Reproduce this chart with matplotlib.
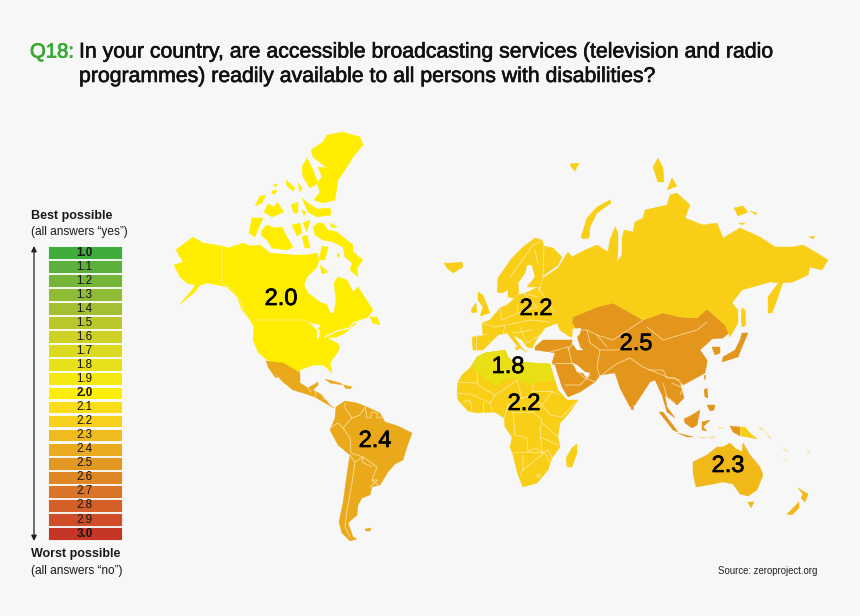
import matplotlib

matplotlib.use("Agg")
import matplotlib.patheffects as pe
import matplotlib.pyplot as plt

BACKGROUND = "#f7f7f7"
FONT = "Liberation Sans"

# colour scale
scale_labels = ["1.0", "1.1", "1.2", "1.3", "1.4", "1.5", "1.6", "1.7", "1.8", "1.9", "2.0",
                "2.1", "2.2", "2.3", "2.4", "2.5", "2.6", "2.7", "2.8", "2.9", "3.0"]
scale_colors = ["#3aaa35", "#57ae35", "#70b334", "#8cb92f", "#a3bd2b", "#b8c624", "#cdd01f",
                "#dcd81a", "#e8e014", "#f5e80b", "#ffed00", "#fbdd10", "#f8cf16", "#f0b917",
                "#eaa91a", "#e3951c", "#df821e", "#d9701f", "#d35a20", "#cd4620", "#c5301f"]
scale_bold = ["1.0", "2.0", "3.0"]

# region scores, with the spot each label sits on the map
label_scores = ["2.0", "2.2", "2.5", "1.8", "2.2", "2.4", "2.3"]
label_x = [281, 536, 636, 508, 524, 375, 728]
label_y = [299, 309, 344, 367, 404, 441, 466]

# outlines in image pixels
north_america = [
    [(176, 250), (193, 237), (203, 243), (222, 246), (228, 248), (243, 243), (250, 246), (260, 245),
     (270, 253), (293, 255), (307, 255), (317, 253), (319, 260), (317, 267), (307, 277), (304, 285),
     (308, 293), (320, 302), (327, 305), (330, 313), (334, 313), (336, 300), (334, 283), (338, 277),
     (347, 280), (353, 292), (358, 287), (373, 310), (368, 317), (360, 320), (352, 327), (345, 333),
     (337, 337), (327, 338), (337, 343), (340, 347), (337, 353), (330, 363), (332, 373), (327, 368),
     (323, 365), (313, 365), (300, 370), (299, 380), (290, 375), (277, 363), (267, 360), (258, 352),
     (253, 340), (254, 327), (250, 320), (242, 310), (237, 297), (227, 287), (208, 283), (200, 285),
     (195, 292), (180, 304), (192, 290), (195, 285), (187, 283), (180, 277), (174, 265), (183, 262)],
    [(327, 135), (343, 132), (360, 137), (363, 145), (353, 157), (345, 170), (338, 180), (335, 200),
     (323, 203), (314, 200), (320, 192), (317, 183), (322, 177), (318, 167), (327, 168), (313, 157),
     (311, 150), (323, 142)],
    [(307, 158), (313, 170), (318, 183), (310, 188), (303, 177), (302, 167)],
    [(302, 198), (308, 203), (317, 209), (330, 208), (331, 215), (317, 217), (308, 212)],
    [(255, 206), (260, 196), (266, 195), (262, 203)],
    [(264, 212), (268, 204), (275, 207), (277, 202), (284, 212), (272, 217)],
    [(291, 205), (298, 202), (298, 213), (294, 213)],
    [(286, 180), (295, 188), (293, 191), (287, 186)],
    [(298, 183), (302, 188), (300, 192)],
    [(272, 191), (277, 190), (275, 194), (272, 194)],
    [(273, 185), (277, 184), (276, 187)],
    [(302, 210), (306, 212), (304, 216)],
    [(252, 218), (263, 218), (260, 225), (255, 237), (249, 233)],
    [(262, 230), (267, 225), (275, 228), (282, 227), (287, 237), (293, 247), (287, 250), (272, 248),
     (267, 240), (261, 235)],
    [(292, 225), (300, 223), (302, 233), (297, 236)],
    [(303, 223), (310, 220), (307, 232)],
    [(302, 237), (307, 235), (310, 248), (305, 248)],
    [(313, 227), (318, 223), (323, 223), (328, 230), (337, 232), (353, 245), (353, 252), (363, 260),
     (357, 268), (358, 277), (350, 270), (352, 263), (345, 257), (343, 247), (333, 242), (323, 240),
     (315, 235)],
    [(330, 223), (337, 227), (332, 228)],
    [(322, 246), (328, 247), (325, 260), (319, 260)],
    [(320, 265), (328, 272), (322, 274)],
    [(337, 253), (340, 255), (338, 258)],
    [(370, 317), (377, 317), (380, 325), (373, 323)],
]
latin_america = [
    [(266, 361), (283, 363), (292, 368), (300, 373), (300, 383), (308, 388), (318, 382), (318, 385),
     (313, 390), (322, 395), (330, 405), (334, 408), (325, 403), (315, 397), (303, 393), (293, 390),
     (283, 382), (275, 373)],
    [(266, 361), (272, 368), (278, 378), (275, 377), (268, 367)],
    [(325, 379), (340, 383), (343, 385), (330, 383)],
    [(344, 385), (352, 387), (350, 389), (345, 388)],
    [(336, 407), (345, 401), (357, 403), (367, 407), (380, 413), (385, 422), (398, 426), (412, 433),
     (407, 447), (403, 460), (395, 464), (388, 472), (380, 485), (372, 487), (370, 495), (362, 498),
     (358, 505), (357, 515), (348, 523), (353, 537), (357, 539), (350, 541), (342, 533), (339, 522),
     (343, 503), (348, 467), (350, 455), (338, 445), (330, 430), (335, 418)],
    [(365, 529), (371, 528), (370, 531), (366, 531)],
]
africa_south = [
    [(458, 382), (462, 375), (470, 368), (477, 357), (485, 353), (505, 350), (508, 357), (513, 362),
     (533, 363), (550, 364), (558, 390), (567, 400), (578, 400), (570, 412), (560, 423), (558, 437),
     (560, 447), (552, 458), (548, 470), (537, 483), (523, 487), (518, 475), (513, 455), (510, 447),
     (512, 437), (505, 427), (504, 418), (495, 412), (477, 413), (468, 411), (458, 400), (457, 393)],
    [(577, 444), (577, 453), (572, 467), (567, 467), (566, 458), (572, 448)],
]
north_africa = [
    [(472, 368), (477, 357), (485, 353), (505, 350), (508, 357), (513, 362), (533, 363), (550, 364),
     (553, 381), (533, 382), (533, 385), (517, 379), (507, 378), (496, 386), (477, 373)],
]
russia_europe = [
    [(540, 290), (543, 278), (558, 268), (568, 252), (572, 257), (585, 250), (597, 245), (608, 252),
     (610, 240), (615, 227), (618, 233), (618, 250), (617, 262), (622, 255), (622, 238), (624, 230),
     (633, 232), (635, 222), (643, 218), (645, 210), (667, 205), (670, 195), (677, 193), (690, 205),
     (685, 218), (703, 225), (717, 223), (723, 238), (740, 228), (760, 237), (775, 247), (793, 247),
     (803, 245), (817, 253), (828, 260), (822, 270), (810, 267), (808, 275), (793, 282), (780, 283),
     (770, 282), (742, 290), (732, 303), (738, 310), (738, 323), (730, 337), (725, 325), (707, 309),
     (697, 318), (680, 317), (663, 313), (643, 320), (613, 303), (597, 307), (573, 317), (572, 323),
     (580, 335), (570, 337), (560, 330), (557, 323), (555, 313), (537, 307), (537, 297)],
    [(768, 297), (782, 278), (783, 282), (778, 297), (772, 313), (768, 313)],
    [(742, 308), (745, 310), (746, 325), (742, 327), (741, 318)],
    [(653, 167), (658, 158), (663, 168), (664, 182), (658, 182)],
    [(667, 190), (672, 178), (677, 186)],
    [(734, 208), (743, 206), (748, 212), (738, 216)],
    [(750, 211), (757, 213), (756, 215)],
    [(739, 223), (745, 223), (742, 225)],
    [(809, 237), (815, 236), (813, 239)],
    [(570, 164), (579, 163), (575, 171), (572, 168)],
    [(581, 237), (587, 218), (597, 207), (610, 200), (611, 203), (597, 213), (590, 227), (589, 238), (583, 239)],
    [(444, 263), (453, 263), (462, 262), (463, 267), (453, 273), (447, 268)],
    [(497, 292), (498, 278), (512, 258), (523, 247), (535, 238), (542, 240), (544, 246), (553, 248),
     (562, 257), (558, 265), (543, 276), (540, 287), (527, 287), (535, 277), (532, 265), (527, 265),
     (525, 273), (518, 283), (519, 293), (514, 298), (508, 297), (508, 290), (502, 293)],
    [(482, 323), (490, 320), (500, 308), (507, 305), (518, 295), (528, 292), (538, 287), (540, 297),
     (537, 307), (555, 313), (560, 320), (557, 323), (545, 328), (540, 335), (538, 337), (532, 348),
     (527, 347), (522, 340), (513, 335), (522, 348), (527, 352), (518, 347), (507, 333), (498, 335),
     (490, 343), (483, 350), (473, 350), (472, 337), (483, 335)],
    [(478, 292), (483, 295), (490, 313), (480, 316), (483, 307), (478, 300)],
    [(471, 310), (476, 303), (477, 312), (472, 313)],
    [(515, 347), (520, 348), (516, 350)],
    [(740, 427), (745, 427), (750, 433), (757, 439), (747, 437), (741, 436)],
]
asia = [
    [(535, 347), (543, 340), (562, 340), (572, 340), (574, 336), (570, 325), (573, 317), (597, 307),
     (613, 303), (643, 320), (663, 313), (680, 317), (697, 318), (707, 309), (725, 325), (730, 332),
     (723, 338), (712, 339), (700, 350), (707, 360), (707, 363), (705, 373), (687, 383), (683, 385),
     (680, 383), (684, 398), (677, 405), (668, 398), (665, 395), (667, 407), (675, 418), (667, 412),
     (662, 395), (655, 380), (650, 382), (635, 405), (630, 407), (620, 388), (615, 373), (600, 375),
     (595, 382), (580, 392), (568, 397), (562, 387), (555, 365), (552, 363), (555, 353), (550, 352),
     (535, 350)],
    [(631, 405), (634, 407), (633, 410), (631, 409)],
    [(742, 333), (748, 333), (742, 347), (738, 357), (722, 362), (723, 357), (735, 350), (740, 340)],
    [(712, 347), (720, 347), (720, 353), (715, 355), (713, 350)],
    [(704, 376), (706, 375), (705, 380)],
    [(704, 390), (707, 388), (708, 398), (705, 397)],
    [(707, 405), (715, 405), (714, 410), (710, 411)],
    [(659, 412), (663, 412), (678, 432), (673, 430)],
    [(678, 433), (693, 437), (687, 437)],
    [(684, 419), (692, 415), (700, 410), (697, 425), (692, 428), (685, 423)],
    [(702, 422), (710, 420), (703, 427), (707, 431), (702, 430)],
    [(730, 426), (740, 427), (740, 436), (733, 432)],
]
oceania = [
    [(693, 462), (707, 455), (717, 447), (723, 447), (730, 443), (735, 448), (742, 452), (743, 443),
     (750, 455), (760, 467), (763, 475), (757, 490), (748, 496), (740, 494), (733, 484), (723, 482),
     (708, 485), (696, 487), (693, 473)],
    [(748, 502), (754, 502), (751, 508)],
    [(798, 488), (808, 494), (805, 502), (801, 498), (803, 494)],
    [(799, 502), (799, 508), (792, 515), (787, 514)],
]
faint_islands = [
    [(698, 437), (706, 437), (704, 439)], [(708, 437), (716, 436), (712, 439)],
    [(718, 427), (724, 428), (720, 429)], [(758, 426), (764, 429), (762, 431)],
    [(764, 431), (772, 438), (770, 439)], [(782, 447), (788, 451), (786, 452)],
    [(782, 458), (787, 461), (790, 462)], [(807, 453), (811, 450), (808, 455)],
]
# open water cut back out of the land
water = [
    [(573, 329), (581, 328), (580, 333), (577, 337), (580, 347), (583, 350), (577, 350), (572, 343)],
    [(573, 363), (577, 365), (585, 372), (590, 373), (587, 378), (583, 373), (577, 372)],
    [(310, 323), (320, 325), (317, 330)],
    [(317, 330), (320, 330), (319, 338), (317, 338)],
]
st_lawrence = [(325, 337), (337, 331), (350, 328), (353, 323), (363, 320)]

# country borders
pale_borders = [
    [(222, 246), (222, 283), (230, 288), (240, 300), (245, 313), (250, 320)],
    [(254, 320), (303, 320), (315, 325)],
    [(308, 388), (311, 392)], [(315, 390), (316, 396)], [(322, 395), (325, 400)],
    # south america
    [(352, 418), (343, 428), (350, 438), (351, 453), (363, 457), (377, 467), (372, 480), (378, 485)],
    [(330, 428), (338, 423), (343, 428)], [(345, 403), (345, 408), (352, 418), (360, 415), (365, 407)],
    [(365, 407), (367, 418), (370, 418), (372, 412), (377, 413), (377, 418), (382, 417)],
    [(355, 462), (352, 483), (347, 510), (345, 527), (350, 537)], [(363, 457), (362, 462), (372, 467)],
    [(350, 455), (355, 462), (363, 457)], [(372, 480), (378, 480), (370, 487)],
    # africa
    [(477, 373), (478, 385), (495, 395), (503, 390), (517, 380)], [(458, 382), (477, 383)],
    [(458, 393), (473, 395), (490, 403), (495, 395)], [(463, 402), (470, 400), (472, 410)],
    [(483, 402), (483, 412)], [(490, 403), (492, 411)],
    [(517, 380), (522, 398), (508, 405), (504, 418)], [(533, 385), (533, 395), (542, 405), (552, 392), (559, 395)],
    [(533, 391), (553, 391)], [(522, 398), (533, 395)],
    [(542, 405), (550, 415), (562, 417), (575, 403)], [(508, 405), (513, 413), (533, 412), (542, 405)],
    [(513, 413), (515, 435), (527, 438), (528, 452), (542, 453), (540, 430), (542, 420), (533, 412)],
    [(542, 423), (558, 437)], [(540, 437), (558, 445)], [(513, 453), (528, 452)],
    [(523, 455), (523, 470), (520, 475)], [(523, 470), (535, 460), (545, 453), (550, 462)],
    [(528, 452), (535, 448), (543, 452)], [(542, 453), (548, 450), (552, 458)],
    [(537, 475), (539, 474), (540, 476), (538, 478), (537, 475)],
    # europe
    [(510, 277), (520, 263), (533, 245), (540, 242)], [(535, 250), (538, 265)], [(544, 246), (543, 276)],
    [(482, 323), (495, 327), (505, 325), (503, 335)], [(473, 337), (487, 334)],
    [(500, 308), (502, 320), (518, 313), (517, 305)], [(518, 313), (537, 307)],
    [(525, 295), (530, 300), (537, 307)], [(507, 325), (530, 320), (550, 322)],
    [(512, 333), (533, 330)], [(520, 327), (527, 343), (540, 335)], [(476, 337), (476, 350)],
    [(518, 292), (538, 297)], [(555, 313), (540, 290)],
    # asia
    [(572, 330), (587, 330), (597, 335), (613, 340), (628, 330), (643, 320)],
    [(647, 327), (663, 340), (697, 330), (707, 322)], [(568, 347), (572, 363), (583, 377), (595, 382)],
    [(600, 350), (597, 367), (600, 377)], [(550, 352), (568, 347)], [(555, 363), (572, 363)],
    [(630, 358), (618, 363), (608, 370), (600, 377)], [(630, 358), (643, 367), (667, 377), (680, 380)],
    [(600, 350), (617, 350), (627, 347)], [(587, 330), (590, 343), (600, 350)], [(597, 335), (607, 347)],
    [(648, 370), (663, 370), (667, 378), (675, 378), (683, 385)], [(663, 383), (667, 397), (675, 403)],
    [(672, 383), (683, 388), (680, 395)], [(565, 385), (580, 385), (590, 375)], [(568, 350), (575, 340)],
]
region_shapes = [
    (north_america, "2.0"), (latin_america, "2.4"), (africa_south, "2.2"), (north_africa, "1.8"),
    (asia, "2.5"), (russia_europe, "2.2"), (oceania, "2.3"),
]


def main() -> None:
    plt.rcParams["font.family"] = [FONT, "DejaVu Sans"]
    fig = plt.figure(figsize=(8.6, 6.16), dpi=100, facecolor=BACKGROUND)
    ax = fig.add_axes([0, 0, 1, 1])
    ax.set_xlim(0, 860)
    ax.set_ylim(616, 0)
    ax.axis("off")

    _draw_map(ax)
    _draw_scale(ax)

    medium = [pe.withStroke(linewidth=0.45, foreground="#111111")]
    ax.text(30, 57.5, "Q18:", color="#3aaa35", fontsize=14.6,
            path_effects=[pe.withStroke(linewidth=0.6, foreground="#3aaa35")])
    ax.text(79, 57.5, "In your country, are accessible broadcasting services (television and radio",
            color="#111111", fontsize=15.3, path_effects=medium)
    ax.text(79, 82, "programmes) readily available to all persons with disabilities?",
            color="#111111", fontsize=15.3, path_effects=medium)
    ax.text(718, 574, "Source: zeroproject.org", color="#222222", fontsize=6.9)
    fig.savefig("out.png", dpi=100, facecolor=BACKGROUND)
    plt.close(fig)


def _draw_map(ax) -> None:
    colors = dict(zip(scale_labels, scale_colors))
    for shapes, score in region_shapes:
        for shape in shapes:
            xs, ys = zip(*shape)
            ax.fill(xs, ys, color=colors[score], linewidth=0.3, joinstyle="round")
    for shape in faint_islands:
        xs, ys = zip(*shape)
        ax.fill(xs, ys, color="#f8e3a8", linewidth=0.2)
    for shape in water:
        xs, ys = zip(*shape)
        ax.fill(xs, ys, color=BACKGROUND, linewidth=0.2)
    xs, ys = zip(*st_lawrence)
    ax.plot(xs, ys, color=BACKGROUND, linewidth=0.9)
    for line in pale_borders:
        xs, ys = zip(*line)
        ax.plot(xs, ys, color="#fdeeb8", linewidth=0.55, alpha=0.85, solid_joinstyle="round")
    for score, x, y in zip(label_scores, label_x, label_y):
        ax.text(x, y, score, ha="center", va="center", fontsize=17, color="black",
                path_effects=[pe.withStroke(linewidth=0.5, foreground="black")])


def _draw_scale(ax) -> None:
    top = 246
    step = 14.05
    for i, (label, color) in enumerate(zip(scale_labels, scale_colors)):
        y = top + i * step
        ax.add_patch(plt.Rectangle((47.5, y), 74, 12.8, facecolor=color, edgecolor="#ffffff",
                                   linewidth=0.6, alpha=0.97))
        bold = label in scale_bold
        ax.text(84.5, y + 6.6, label, ha="center", va="center", fontsize=8.4, color="#151515",
                fontweight="bold" if bold else "normal")
    ax.annotate("", xy=(34, 246), xytext=(34, 541),
                arrowprops=dict(arrowstyle="<|-|>", color="#222222", lw=0.9, mutation_scale=8,
                                shrinkA=0, shrinkB=0))
    ax.text(31, 219, "Best possible", fontsize=9, fontweight="bold", color="#1a1a1a")
    ax.text(31, 235, "(all answers “yes”)", fontsize=8.6, color="#1a1a1a")
    ax.text(31, 557, "Worst possible", fontsize=9, fontweight="bold", color="#1a1a1a")
    ax.text(31, 574, "(all answers “no”)", fontsize=8.6, color="#1a1a1a")


if __name__ == "__main__":
    main()
